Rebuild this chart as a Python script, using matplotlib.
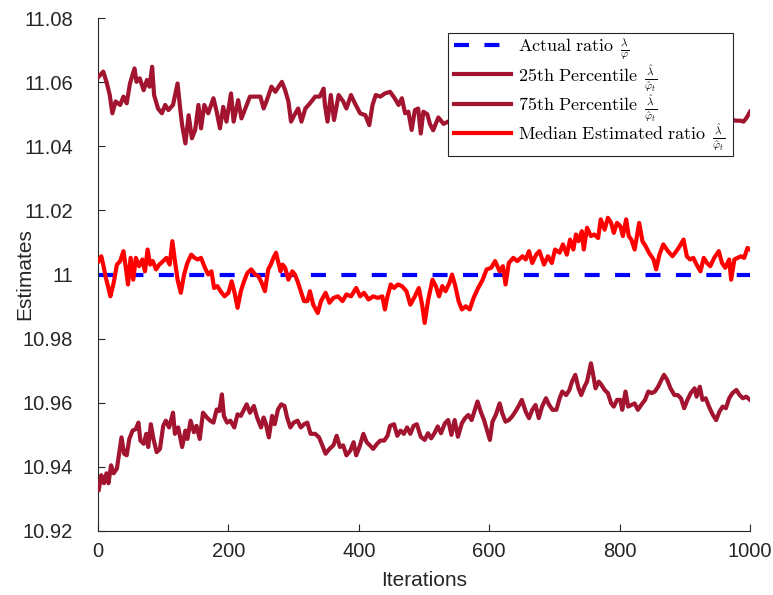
import matplotlib
matplotlib.use("Agg")
import matplotlib.pyplot as plt
from matplotlib.patches import Rectangle

plt.rcParams['mathtext.fontset'] = 'cm'
plt.rcParams['font.family'] = ['Liberation Sans', 'DejaVu Sans']

actual_ratio = 11.0

# Upper percentile curve (75th)
upper_x = [1, 8, 13, 18, 22, 27, 34, 39, 44, 49, 56, 59, 64, 70, 75, 79, 83, 86, 92, 98,
           103, 108, 115, 122, 126, 129, 134, 139, 144, 149, 154, 158, 163, 169, 177, 182,
           187, 192, 197, 204, 208, 215, 220, 228, 233, 241, 249, 254, 259, 266, 272, 277,
           282, 287, 292, 296, 301, 307, 312, 318, 325, 333, 340, 346, 348, 352, 357, 362,
           369, 376, 381, 388, 394, 402, 410, 416, 421, 426, 433, 440, 448, 455, 461, 466,
           471, 476, 481, 486, 491, 495, 499, 505, 509, 514, 522, 530, 540, 560, 580, 600,
           620, 640, 660, 680, 700, 720, 740, 760, 780, 800, 820, 840, 860, 880, 900, 920,
           940, 960, 970, 978, 985, 990, 995, 1000]
upper_y = [11.0617, 11.0633, 11.0601, 11.0560, 11.0503, 11.0540, 11.0529, 11.0555, 11.0534,
           11.0596, 11.0643, 11.0601, 11.0612, 11.0575, 11.0607, 11.0586, 11.0648, 11.0560,
           11.0518, 11.0503, 11.0529, 11.0513, 11.0529, 11.0596, 11.0518, 11.0466, 11.0409,
           11.0497, 11.0425, 11.0451, 11.0529, 11.0456, 11.0529, 11.0503, 11.0550, 11.0508,
           11.0456, 11.0523, 11.0477, 11.0565, 11.0477, 11.0544, 11.0487, 11.0529, 11.0555,
           11.0555, 11.0555, 11.0518, 11.0544, 11.0586, 11.0570, 11.0586, 11.0601, 11.0575,
           11.0540, 11.0477, 11.0497, 11.0518, 11.0477, 11.0518, 11.0534, 11.0555, 11.0555,
           11.0580, 11.0529, 11.0477, 11.0560, 11.0482, 11.0560, 11.0540, 11.0518, 11.0560,
           11.0534, 11.0503, 11.0497, 11.0466, 11.0529, 11.0560, 11.0555, 11.0565, 11.0570,
           11.0550, 11.0529, 11.0550, 11.0503, 11.0508, 11.0451, 11.0513, 11.0518, 11.0440,
           11.0508, 11.0500, 11.0470, 11.0450, 11.0490, 11.0470, 11.0480, 11.0490, 11.0470,
           11.0500, 11.0480, 11.0490, 11.0470, 11.0500, 11.0480, 11.0490, 11.0470, 11.0480,
           11.0500, 11.0490, 11.0470, 11.0480, 11.0490, 11.0470, 11.0480, 11.0490, 11.0480,
           11.0490, 11.0485, 11.0480, 11.0480, 11.0477, 11.0490, 11.0508]

# Median estimated ratio
median_x = [1, 5, 8, 12, 16, 19, 24, 29, 34, 39, 42, 46, 50, 54, 58, 63, 68, 72, 76, 80,
            84, 89, 94, 100, 105, 110, 114, 118, 122, 127, 132, 137, 143, 148, 153, 158,
            164, 169, 174, 178, 183, 188, 194, 200, 205, 210, 214, 219, 224, 229, 235, 241,
            246, 251, 256, 261, 265, 269, 273, 276, 280, 283, 287, 292, 298, 302, 306, 311,
            316, 321, 325, 330, 337, 342, 349, 355, 361, 368, 375, 381, 388, 396, 402, 408,
            415, 422, 429, 436, 440, 444, 449, 454, 460, 466, 473, 479, 486, 492, 497, 501,
            506, 513, 518, 523, 528, 533, 539, 543, 548, 553, 558, 564, 570, 576, 583, 590,
            596, 603, 609, 616, 621, 625, 630, 637, 643, 651, 656, 661, 666, 672, 677, 684,
            690, 696, 701, 708, 713, 719, 724, 729, 733, 737, 742, 745, 750, 756, 761, 767,
            771, 777, 782, 787, 791, 796, 801, 805, 810, 814, 818, 823, 830, 835, 840, 845,
            852, 856, 861, 867, 874, 881, 887, 892, 898, 903, 908, 913, 918, 924, 929, 934,
            939, 945, 952, 957, 962, 968, 971, 976, 981, 986, 991, 996, 1000]
median_y = [11.0042, 11.0057, 11.0031, 10.9990, 10.9958, 10.9932, 10.9974, 11.0031, 11.0042,
            11.0073, 11.0031, 10.9969, 11.0052, 10.9984, 11.0052, 11.0026, 11.0047, 11.0010,
            11.0078, 11.0031, 11.0042, 11.0016, 11.0031, 11.0042, 11.0052, 11.0031, 11.0104,
            11.0042, 10.9984, 10.9943, 11.0000, 11.0036, 11.0062, 11.0052, 11.0047, 11.0052,
            11.0021, 11.0000, 11.0010, 10.9958, 10.9964, 10.9948, 10.9932, 10.9943, 10.9979,
            10.9938, 10.9896, 10.9948, 10.9979, 11.0005, 11.0016, 11.0000, 10.9995, 10.9974,
            10.9948, 11.0016, 11.0031, 11.0052, 11.0068, 11.0042, 11.0010, 11.0031, 11.0021,
            10.9984, 11.0010, 11.0000, 10.9979, 10.9948, 10.9917, 10.9917, 10.9948, 10.9906,
            10.9880, 10.9917, 10.9943, 10.9912, 10.9927, 10.9932, 10.9917, 10.9938, 10.9932,
            10.9958, 10.9932, 10.9943, 10.9922, 10.9932, 10.9927, 10.9932, 10.9891, 10.9932,
            10.9969, 10.9958, 10.9969, 10.9964, 10.9948, 10.9906, 10.9932, 10.9958, 10.9906,
            10.9849, 10.9917, 10.9984, 10.9964, 10.9932, 10.9964, 10.9948, 10.9974, 11.0000,
            10.9964, 10.9917, 10.9891, 10.9901, 10.9891, 10.9927, 10.9958, 10.9984, 11.0016,
            11.0021, 11.0042, 11.0010, 11.0026, 10.9969, 11.0036, 11.0052, 11.0042, 11.0057,
            11.0047, 11.0073, 11.0036, 11.0062, 11.0073, 11.0031, 11.0057, 11.0036, 11.0078,
            11.0068, 11.0094, 11.0062, 11.0109, 11.0078, 11.0125, 11.0104, 11.0135, 11.0078,
            11.0146, 11.0120, 11.0125, 11.0114, 11.0172, 11.0140, 11.0177, 11.0161, 11.0130,
            11.0161, 11.0151, 11.0120, 11.0172, 11.0120, 11.0109, 11.0078, 11.0161, 11.0104,
            11.0088, 11.0068, 11.0047, 11.0016, 11.0062, 11.0094, 11.0073, 11.0057, 11.0073,
            11.0088, 11.0109, 11.0057, 11.0047, 11.0052, 11.0031, 11.0010, 11.0052, 11.0036,
            11.0026, 11.0052, 11.0073, 11.0036, 11.0021, 11.0047, 10.9984, 11.0047, 11.0052,
            11.0057, 11.0052, 11.0083, 11.0078]

# Lower percentile curve (25th)
lower_x = [1, 5, 9, 13, 16, 20, 24, 29, 33, 36, 40, 44, 48, 53, 58, 62, 65, 70, 74, 77,
           81, 85, 90, 95, 100, 104, 109, 115, 118, 123, 129, 134, 137, 142, 147, 151, 156,
           161, 167, 172, 177, 182, 186, 190, 193, 198, 203, 209, 214, 219, 224, 228, 233,
           239, 244, 250, 254, 257, 262, 267, 271, 276, 281, 286, 290, 295, 300, 306, 311,
           316, 321, 326, 333, 339, 344, 349, 355, 361, 366, 371, 376, 381, 387, 392, 396,
           401, 407, 412, 417, 422, 428, 433, 439, 444, 448, 454, 459, 464, 469, 474, 479,
           484, 489, 495, 501, 506, 511, 516, 521, 526, 532, 537, 542, 547, 552, 558, 563,
           568, 573, 578, 582, 587, 592, 598, 601, 605, 610, 616, 620, 625, 630, 635, 640,
           646, 650, 656, 661, 666, 671, 676, 681, 687, 692, 697, 703, 708, 712, 718, 723,
           727, 732, 737, 741, 746, 750, 756, 759, 763, 768, 772, 777, 782, 787, 791, 796,
           801, 804, 809, 813, 818, 823, 828, 833, 839, 844, 849, 854, 859, 864, 868, 873,
           878, 884, 889, 894, 899, 904, 909, 915, 918, 923, 927, 932, 937, 943, 948, 953,
           958, 963, 968, 973, 979, 984, 989, 994, 1000]
lower_y = [10.9328, 10.9374, 10.9349, 10.9380, 10.9349, 10.9405, 10.9380, 10.9395, 10.9451,
           10.9492, 10.9441, 10.9436, 10.9487, 10.9513, 10.9518, 10.9538, 10.9482, 10.9472,
           10.9503, 10.9462, 10.9533, 10.9487, 10.9446, 10.9456, 10.9528, 10.9544, 10.9523,
           10.9569, 10.9503, 10.9523, 10.9462, 10.9513, 10.9487, 10.9544, 10.9508, 10.9528,
           10.9487, 10.9569, 10.9554, 10.9544, 10.9538, 10.9579, 10.9574, 10.9626, 10.9559,
           10.9538, 10.9544, 10.9523, 10.9564, 10.9559, 10.9579, 10.9595, 10.9569, 10.9590,
           10.9554, 10.9523, 10.9554, 10.9538, 10.9492, 10.9559, 10.9533, 10.9579, 10.9595,
           10.9590, 10.9554, 10.9523, 10.9538, 10.9544, 10.9523, 10.9533, 10.9538, 10.9503,
           10.9503, 10.9492, 10.9467, 10.9441, 10.9456, 10.9467, 10.9497, 10.9462, 10.9467,
           10.9436, 10.9451, 10.9477, 10.9436, 10.9462, 10.9503, 10.9477, 10.9467, 10.9456,
           10.9472, 10.9482, 10.9482, 10.9497, 10.9528, 10.9533, 10.9497, 10.9513, 10.9503,
           10.9523, 10.9503, 10.9528, 10.9533, 10.9494, 10.9484, 10.9505, 10.9489, 10.9505,
           10.9526, 10.9505, 10.9536, 10.9546, 10.9500, 10.9546, 10.9494, 10.9536, 10.9552,
           10.9562, 10.9546, 10.9578, 10.9604, 10.9572, 10.9546, 10.9505, 10.9484, 10.9541,
           10.9562, 10.9598, 10.9567, 10.9541, 10.9546, 10.9557, 10.9572, 10.9593, 10.9609,
           10.9572, 10.9552, 10.9578, 10.9593, 10.9552, 10.9588, 10.9614, 10.9593, 10.9578,
           10.9578, 10.9614, 10.9635, 10.9624, 10.9640, 10.9666, 10.9687, 10.9645, 10.9624,
           10.9650, 10.9666, 10.9723, 10.9692, 10.9645, 10.9666, 10.9656, 10.9640, 10.9630,
           10.9598, 10.9588, 10.9609, 10.9609, 10.9578, 10.9635, 10.9588, 10.9593, 10.9598,
           10.9578, 10.9593, 10.9609, 10.9635, 10.9630, 10.9635, 10.9650, 10.9671, 10.9687,
           10.9671, 10.9645, 10.9624, 10.9624, 10.9614, 10.9583, 10.9609, 10.9630, 10.9645,
           10.9619, 10.9650, 10.9609, 10.9614, 10.9588, 10.9562, 10.9546, 10.9572, 10.9588,
           10.9583, 10.9614, 10.9630, 10.9640, 10.9624, 10.9614, 10.9619, 10.9609]

x_limits = [0, 1000]
y_limits = [10.92, 11.08]
x_ticks = [0, 200, 400, 600, 800, 1000]
y_ticks = [10.92, 10.94, 10.96, 10.98, 11.0, 11.02, 11.04, 11.06, 11.08]
y_tick_labels = ['10.92', '10.94', '10.96', '10.98', '11', '11.02', '11.04', '11.06', '11.08']

legend_texts = [r'$\mathrm{Actual\ ratio}$',
                r'$\mathrm{25th\ Percentile}$',
                r'$\mathrm{75th\ Percentile}$',
                r'$\mathrm{Median\ Estimated\ ratio}$']
legend_fracs = [r'$\frac{\lambda}{\varphi}$',
                r'$\frac{\hat{\lambda}}{\hat{\varphi}_t}$',
                r'$\frac{\hat{\lambda}}{\hat{\varphi}_t}$',
                r'$\frac{\hat{\lambda}}{\hat{\varphi}_t}$']

dark_red = '#A2142F'

W, H = 773, 595
fig = plt.figure(figsize=(W / 100, H / 100), dpi=100)
ax = fig.add_axes([0.1268, 0.1076, 0.8435, 0.862])

h_actual, = ax.plot(x_limits, [actual_ratio, actual_ratio], color='#0000FF', lw=3.0,
                    linestyle=(0, (3.6, 3.7)), zorder=2)
h_low, = ax.plot(lower_x, lower_y, color=dark_red, lw=3.0, zorder=3)
h_up, = ax.plot(upper_x, upper_y, color=dark_red, lw=3.0, zorder=3)
h_med, = ax.plot(median_x, median_y, color='#FF0000', lw=3.0, zorder=4)

ax.set_xlim(x_limits)
ax.set_ylim(y_limits)
ax.set_xticks(x_ticks)
ax.set_yticks(y_ticks)
ax.set_yticklabels(y_tick_labels)
ax.tick_params(direction='in', length=5, width=0.8, colors='#262626', labelsize=14.5,
               top=False, right=False)
ax.tick_params(axis='y', pad=18)
ax.tick_params(axis='x', pad=8)
for side in ['top', 'right']:
    ax.spines[side].set_visible(False)
for side in ['left', 'bottom']:
    ax.spines[side].set_color('#262626')
    ax.spines[side].set_linewidth(0.8)

ax.set_xlabel('Iterations', fontsize=15, color='#262626', labelpad=7)
ax.set_ylabel('Estimates', fontsize=15, color='#262626')
ax.yaxis.set_label_coords(-0.098, 0.5)

anchor = [0.93, 0.965]
leg = ax.legend([h_actual, h_low, h_up, h_med], legend_texts, loc='upper right',
                bbox_to_anchor=tuple(anchor), fontsize=13, frameon=False,
                handlelength=3.2, borderpad=0.3, labelspacing=0.68, handletextpad=0.35,
                borderaxespad=0.0)
leg.set_zorder(10)

frac_artists = []
for txt, fr in zip(leg.get_texts(), legend_fracs):
    a = ax.annotate(fr, xy=(1, 0.32), xycoords=txt, xytext=(4, 0),
                    textcoords='offset points', ha='left', va='center', fontsize=11.5,
                    zorder=11, annotation_clip=False)
    frac_artists.append(a)

frame = Rectangle((0, 0), 0, 0, transform=fig.transFigure, facecolor='white',
                  edgecolor='#262626', linewidth=0.8, zorder=9, clip_on=False)
ax.add_patch(frame)

target_right, target_top = 733, H - 33
ax_bb = ax.get_position()
for _ in range(3):
    fig.canvas.draw()
    r = fig.canvas.get_renderer()
    lb = leg.get_window_extent(r)
    fbs = [a.get_window_extent(r) for a in frac_artists]
    x0 = lb.x0
    x1 = max(b.x1 for b in fbs) + 8
    y1 = lb.y1
    y0 = min(lb.y0, min(b.y0 for b in fbs) - 3)
    dx = target_right - x1
    dy = target_top - y1
    anchor[0] += dx / (ax_bb.width * W)
    anchor[1] += dy / (ax_bb.height * H)
    leg.set_bbox_to_anchor(tuple(anchor), transform=ax.transAxes)
    frame.set_bounds((x0 + dx) / W, (y0 + dy) / H, (x1 - x0) / W, (y1 - y0) / H)

fig.savefig('out.png', dpi=100)
